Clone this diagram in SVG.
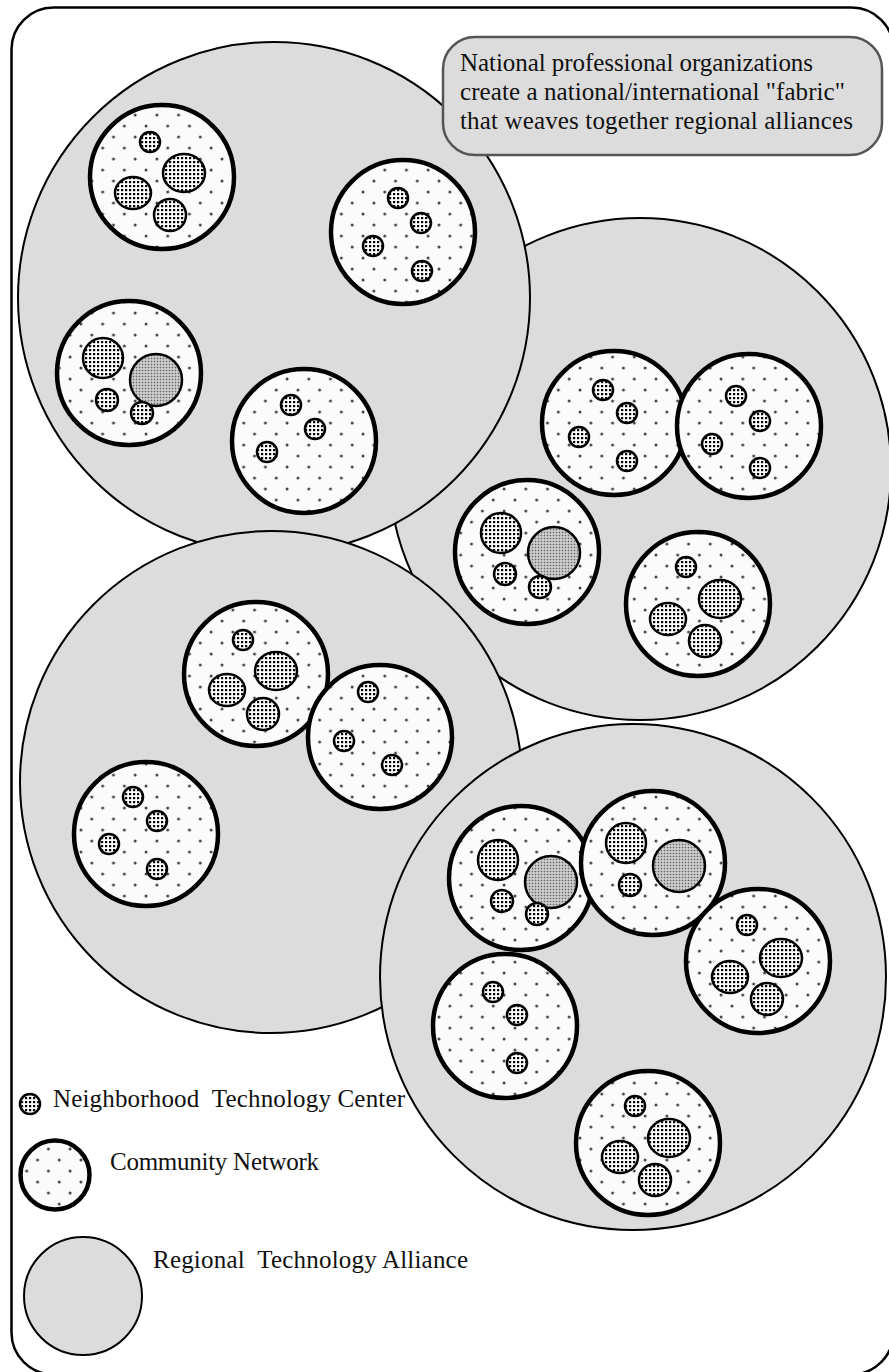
<svg xmlns="http://www.w3.org/2000/svg" width="889" height="1372" viewBox="0 0 889 1372">
<defs>
<pattern id="cnDots" width="21.7" height="22" patternUnits="userSpaceOnUse"><rect width="21.7" height="22" fill="#fbfbfb"/><circle cx="5" cy="5" r="1.5" fill="#444"/><circle cx="15.85" cy="16" r="1.5" fill="#444"/></pattern>
<pattern id="ntcDots" width="4" height="4" patternUnits="userSpaceOnUse"><rect width="4" height="4" fill="#fff"/><rect x="1" y="1" width="2.2" height="2.2" fill="#000"/></pattern>
<pattern id="grayDots" width="3" height="3" patternUnits="userSpaceOnUse"><rect width="3" height="3" fill="#d6d6d6"/><rect x="0.7" y="0.7" width="1.6" height="1.6" fill="#666"/></pattern>
<style>
.region{fill:#dcdcdc;stroke:#000;stroke-width:2}
.cn{fill:url(#cnDots);stroke:#000;stroke-width:4.5}
.ntc{fill:url(#ntcDots);stroke:#000;stroke-width:2.5}
.hub{fill:url(#grayDots);stroke:#000;stroke-width:2.5}
text{font-family:"Liberation Serif","Times New Roman",serif;font-size:25px;fill:#111}
</style>
</defs>
<rect width="889" height="1372" fill="#fff"/>
<rect id="frame" x="11.5" y="7.5" width="882" height="1367" rx="42" fill="none" stroke="#000" stroke-width="2.5"/>

<g id="region2">
<circle class="region" cx="640" cy="469" r="251"/>
<g id="cnE"><circle class="cn" cx="614" cy="423" r="72"/>
<circle class="ntc" cx="603" cy="390" r="10"/><circle class="ntc" cx="627" cy="413" r="10"/><circle class="ntc" cx="579" cy="437" r="10"/><circle class="ntc" cx="627" cy="461" r="10"/></g>
<g id="cnF"><circle class="cn" cx="749" cy="426" r="72"/>
<circle class="ntc" cx="736" cy="396" r="10"/><circle class="ntc" cx="760" cy="421" r="10"/><circle class="ntc" cx="712" cy="444" r="10"/><circle class="ntc" cx="760" cy="468" r="10"/></g>
<g id="cnG"><circle class="cn" cx="527" cy="552" r="72"/>
<circle class="ntc" cx="501" cy="533" r="20"/><circle class="hub" cx="554" cy="553" r="26"/><circle class="ntc" cx="505" cy="574" r="11"/><circle class="ntc" cx="540" cy="587" r="11"/></g>
<g id="cnH"><circle class="cn" cx="698" cy="604" r="72"/>
<circle class="ntc" cx="686" cy="567" r="10"/><ellipse class="ntc" cx="720" cy="599" rx="21" ry="19"/><ellipse class="ntc" cx="668" cy="619" rx="18" ry="16"/><circle class="ntc" cx="705" cy="641" r="16"/></g>
</g>

<g id="region1">
<circle class="region" cx="274" cy="298" r="256"/>
<g id="cnA"><circle class="cn" cx="162" cy="177" r="72"/>
<circle class="ntc" cx="150" cy="142" r="10"/><ellipse class="ntc" cx="184" cy="173" rx="21" ry="19"/><ellipse class="ntc" cx="133" cy="193" rx="18" ry="16"/><circle class="ntc" cx="170" cy="215" r="16"/></g>
<g id="cnB"><circle class="cn" cx="403" cy="232" r="72"/>
<circle class="ntc" cx="398" cy="198" r="10"/><circle class="ntc" cx="421" cy="223" r="10"/><circle class="ntc" cx="373" cy="246" r="10"/><circle class="ntc" cx="422" cy="271" r="10"/></g>
<g id="cnC"><circle class="cn" cx="129" cy="373" r="72"/>
<circle class="ntc" cx="103" cy="358" r="20"/><circle class="hub" cx="156" cy="380" r="26"/><circle class="ntc" cx="107" cy="400" r="11"/><circle class="ntc" cx="142" cy="413" r="11"/></g>
<g id="cnD"><circle class="cn" cx="304" cy="441" r="72"/>
<circle class="ntc" cx="291" cy="405" r="10"/><circle class="ntc" cx="315" cy="429" r="10"/><circle class="ntc" cx="267" cy="452" r="10"/></g>
</g>

<g id="region3">
<circle class="region" cx="271" cy="782" r="251"/>
<g id="cnI"><circle class="cn" cx="256" cy="674" r="72"/>
<circle class="ntc" cx="243" cy="640" r="10"/><ellipse class="ntc" cx="276" cy="671" rx="21" ry="19"/><ellipse class="ntc" cx="227" cy="690" rx="18" ry="16"/><circle class="ntc" cx="263" cy="714" r="16"/></g>
<g id="cnJ"><circle class="cn" cx="380" cy="737" r="72"/>
<circle class="ntc" cx="368" cy="692" r="10"/><circle class="ntc" cx="344" cy="741" r="10"/><circle class="ntc" cx="392" cy="765" r="10"/></g>
<g id="cnK"><circle class="cn" cx="146" cy="834" r="72"/>
<circle class="ntc" cx="133" cy="797" r="10"/><circle class="ntc" cx="157" cy="821" r="10"/><circle class="ntc" cx="109" cy="844" r="10"/><circle class="ntc" cx="157" cy="869" r="10"/></g>
</g>

<g id="region4">
<circle class="region" cx="633" cy="977" r="253"/>
<g id="cnL"><circle class="cn" cx="521" cy="878" r="72"/>
<circle class="ntc" cx="498" cy="860" r="20"/><circle class="hub" cx="551" cy="882" r="26"/><circle class="ntc" cx="502" cy="901" r="11"/><circle class="ntc" cx="537" cy="914" r="11"/></g>
<g id="cnM"><circle class="cn" cx="653" cy="863" r="72"/>
<circle class="ntc" cx="626" cy="843" r="20"/><circle class="hub" cx="679" cy="866" r="26"/><circle class="ntc" cx="630" cy="885" r="11"/></g>
<g id="cnN"><circle class="cn" cx="758" cy="961" r="72"/>
<circle class="ntc" cx="747" cy="925" r="10"/><ellipse class="ntc" cx="781" cy="958" rx="21" ry="19"/><ellipse class="ntc" cx="730" cy="977" rx="18" ry="16"/><circle class="ntc" cx="767" cy="999" r="16"/></g>
<g id="cnO"><circle class="cn" cx="505" cy="1026" r="72"/>
<circle class="ntc" cx="493" cy="992" r="10"/><circle class="ntc" cx="517" cy="1015" r="10"/><circle class="ntc" cx="517" cy="1063" r="10"/></g>
<g id="cnP"><circle class="cn" cx="648" cy="1143" r="72"/>
<circle class="ntc" cx="635" cy="1106" r="10"/><ellipse class="ntc" cx="669" cy="1138" rx="21" ry="19"/><ellipse class="ntc" cx="620" cy="1157" rx="18" ry="16"/><circle class="ntc" cx="655" cy="1180" r="16"/></g>
</g>

<g id="callout">
<rect x="443" y="37" width="439" height="118" rx="32" fill="#dcdcdc" stroke="#555" stroke-width="2.5"/>
<text x="460" y="71" textLength="353">National professional organizations</text>
<text x="460" y="100" textLength="385">create a national/international "fabric"</text>
<text x="460" y="129" textLength="393">that weaves together regional alliances</text>
</g>

<g id="legend">
<g id="legendNTC"><circle class="ntc" cx="30" cy="1104" r="10"/><text x="53" y="1107" textLength="352" xml:space="preserve">Neighborhood  Technology Center</text></g>
<g id="legendCN"><circle class="cn" cx="55" cy="1175" r="34.5"/><text x="110" y="1170" textLength="209">Community Network</text></g>
<g id="legendRegion"><circle class="region" cx="83" cy="1296" r="59"/><text x="153" y="1268" textLength="315" xml:space="preserve">Regional  Technology Alliance</text></g>
</g>
<g id="connectors"/>
</svg>
